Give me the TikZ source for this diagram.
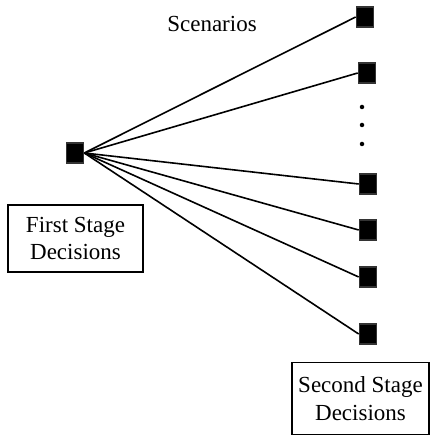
\documentclass[tikz,border=0pt]{standalone}
\usepackage{fontspec}
\setmainfont{Liberation Serif}
\usetikzlibrary{positioning,calc}
\tikzset{
    decision/.style={
        rectangle,
        draw=black!80,
        fill=black,
        minimum width=17pt,
        minimum height=20pt,
        inner sep=0pt,
    },
    stagebox/.style={
        rectangle,
        draw=black,
        align=center,
        inner sep=0pt,
        font=\fontsize{23}{28}\selectfont,
    },
    dot/.style={
        circle,
        fill=black,
        minimum size=4.5pt,
        inner sep=0pt,
    },
}
\begin{document}
\begin{tikzpicture}[x=1pt,y=-1pt,line width=1.6pt]
    \useasboundingbox (0,0) rectangle (442,435);
    \node [decision] (root) at (75,153) {};
    \node [decision] (s1) at (365,17) {};
    \node [decision] (s2) at (367,73) {};
    \node [decision] (s3) at (368,184) {};
    \node [decision] (s4) at (368,230) {};
    \node [decision] (s5) at (368,277) {};
    \node [decision] (s6) at (368,334) {};
    \node [dot] (d1) at (362,107) {};
    \node [dot] (d2) at (362,125) {};
    \node [dot] (d3) at (362,144) {};
    \node [font=\fontsize{23}{28}\selectfont] (scen) at (212,24) {Scenarios};
    \node [stagebox,minimum width=135pt,minimum height=67pt] (first) at (75.5,238.5) {First Stage\\Decisions};
    \node [stagebox,minimum width=137pt,minimum height=72pt] (second) at (360.5,398.5) {Second Stage\\Decisions};
    \foreach \s in {s1,s2,s3,s4,s5,s6}
        \draw (root.east) -- (\s.west);
\end{tikzpicture}
\end{document}
